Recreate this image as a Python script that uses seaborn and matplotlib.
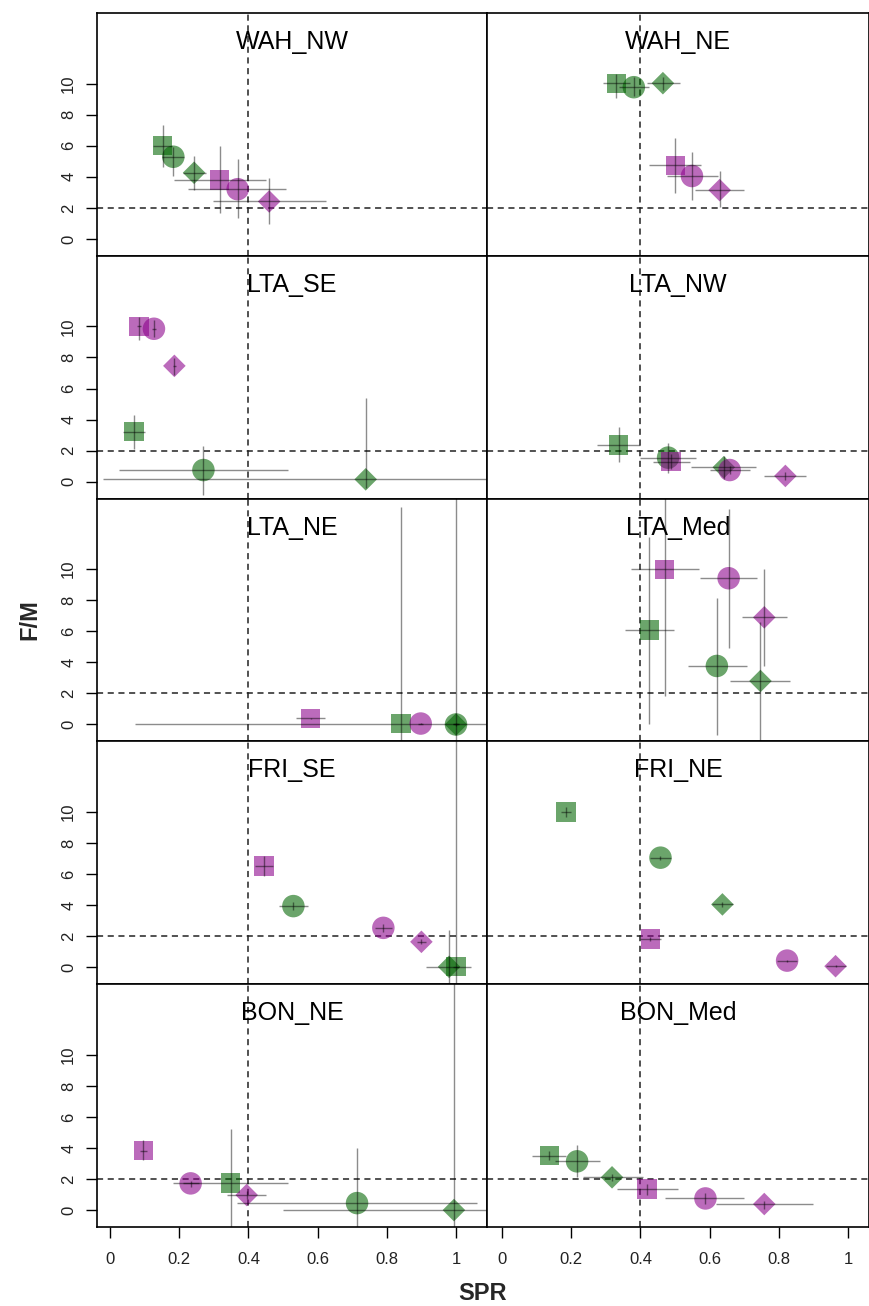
import numpy as np
import pandas as pd
import matplotlib
matplotlib.use("Agg")
import matplotlib.pyplot as plt
import seaborn as sns

# ---------------- data ----------------
panels = ["WAH_NW", "WAH_NE", "LTA_SE", "LTA_NW", "LTA_NE",
          "LTA_Med", "FRI_SE", "FRI_NE", "BON_NE", "BON_Med"]

# six series per panel: green square, green circle, green diamond,
# purple square, purple circle, purple diamond
series_group = ["green", "green", "green", "purple", "purple", "purple"]
series_shape = ["square", "circle", "diamond", "square", "circle", "diamond"]

spr = [0.152, 0.183, 0.243, 0.317, 0.369, 0.460,
       0.330, 0.381, 0.465, 0.501, 0.549, 0.629,
       0.069, 0.270, 0.739, 0.084, 0.127, 0.186,
       0.337, 0.480, 0.641, 0.488, 0.658, 0.819,
       0.841, 1.000, 1.000, 0.580, 0.898, np.nan,
       0.426, 0.621, 0.747, 0.470, 0.655, 0.758,
       1.000, 0.530, 0.980, 0.445, 0.790, 0.900,
       0.185, 0.458, 0.637, 0.429, 0.824, 0.964,
       0.349, 0.714, 0.994, 0.096, 0.233, 0.395,
       0.137, 0.217, 0.318, 0.419, 0.588, 0.758]
spr_lo = [0.125, 0.149, 0.210, 0.185, 0.226, 0.299,
          0.292, 0.337, 0.419, 0.426, 0.477, 0.559,
          0.038, 0.026, -0.019, 0.079, 0.122, 0.181,
          0.275, 0.398, 0.546, 0.436, 0.600, 0.758,
          0.072, 0.990, 0.990, 0.538, 0.890, np.nan,
          0.356, 0.538, 0.660, 0.373, 0.571, 0.694,
          0.990, 0.489, 0.914, 0.420, 0.765, 0.888,
          0.170, 0.428, 0.607, 0.400, 0.794, 0.935,
          0.181, 0.368, 0.500, 0.086, 0.210, 0.337,
          0.087, 0.154, 0.233, 0.333, 0.472, 0.619]
spr_hi = [0.180, 0.215, 0.276, 0.450, 0.510, 0.623,
          0.371, 0.426, 0.514, 0.576, 0.624, 0.700,
          0.101, 0.514, 1.500, 0.089, 0.132, 0.191,
          0.398, 0.562, 0.735, 0.544, 0.718, 0.879,
          1.500, 1.010, 1.010, 0.621, 0.905, np.nan,
          0.498, 0.708, 0.833, 0.568, 0.737, 0.824,
          1.010, 0.571, 1.042, 0.472, 0.815, 0.912,
          0.200, 0.488, 0.667, 0.460, 0.854, 0.993,
          0.515, 1.060, 1.500, 0.106, 0.256, 0.450,
          0.185, 0.282, 0.407, 0.508, 0.700, 0.898]
fm = [6.00, 5.29, 4.26, 3.79, 3.20, 2.41,
      10.03, 9.77, 10.03, 4.73, 4.05, 3.14,
      3.23, 0.75, 0.15, 10.00, 9.85, 7.46,
      2.37, 1.55, 0.93, 1.29, 0.75, 0.37,
      0.06, 0.00, 0.00, 0.39, 0.06, np.nan,
      6.09, 3.77, 2.80, 10.00, 9.42, 6.90,
      0.03, 3.94, 0.03, 6.52, 2.54, 1.64,
      10.00, 7.06, 4.05, 1.83, 0.43, 0.07,
      1.74, 0.45, 0.00, 3.83, 1.72, 0.97,
      3.51, 3.14, 2.11, 1.36, 0.75, 0.39]
fm_lo = [4.64, 4.06, 3.14, 1.64, 1.32, 0.93,
         9.06, 9.20, 9.60, 2.93, 2.50, 2.06,
         2.11, -0.86, -0.43, 9.14, 9.30, 6.88,
         1.25, 0.54, 0.20, 0.80, 0.50, 0.10,
         -3.00, -0.10, -3.00, 0.35, 0.03, np.nan,
         0.06, -0.68, -3.00, 1.85, 4.90, 3.77,
         -3.00, 3.70, -3.00, 5.90, 2.30, 1.50,
         9.70, 6.90, 3.90, 1.70, 0.35, 0.00,
         -3.00, -3.00, -3.00, 3.20, 1.50, 0.70,
         3.20, 2.11, 1.90, 1.00, 0.40, 0.10]
fm_hi = [7.33, 5.94, 5.35, 6.00, 5.12, 3.94,
         10.60, 10.40, 10.40, 6.52, 5.57, 4.37,
         4.30, 2.32, 5.38, 10.58, 10.40, 7.96,
         3.51, 2.52, 1.65, 1.80, 1.00, 0.60,
         14.00, 0.10, 20.00, 0.43, 0.09, np.nan,
         12.06, 8.13, 6.63, 16.00, 13.87, 10.00,
         20.00, 4.20, 2.39, 7.14, 2.80, 1.80,
         10.30, 7.20, 4.20, 1.95, 0.50, 0.14,
         5.23, 3.98, 20.00, 4.50, 1.90, 1.20,
         3.80, 4.22, 2.30, 1.70, 1.10, 0.60]

x_ticks = [0, 0.2, 0.4, 0.6, 0.8, 1]
x_tick_labels = ["0", "0.2", "0.4", "0.6", "0.8", "1"]
y_ticks = [0, 2, 4, 6, 8, 10]
y_tick_labels = ["0", "2", "4", "6", "8", "10"]

df = pd.DataFrame({
    "panel": np.repeat(panels, 6),
    "group": series_group * len(panels),
    "shape": series_shape * len(panels),
    "SPR": spr, "SPR_lo": spr_lo, "SPR_hi": spr_hi,
    "FM": fm, "FM_lo": fm_lo, "FM_hi": fm_hi,
}).dropna(subset=["SPR"])

# ---------------- style ----------------
sns.set_theme(style="white")
plt.rcParams["font.family"] = ["Liberation Sans", "DejaVu Sans"]

palette = {"green": "#006400", "purple": "#8B008B"}
markers = {"square": "s", "circle": "o", "diamond": "D"}
sizes = {"square": 13.9 ** 2, "circle": 16.2 ** 2, "diamond": 11.5 ** 2}

W, H = 870, 1306
fig = plt.figure(figsize=(W / 100, H / 100), dpi=100)
gs = fig.add_gridspec(5, 2, left=97 / W, right=869 / W,
                      top=1 - 13 / H, bottom=1 - 1227 / H,
                      wspace=0, hspace=0, width_ratios=[390, 382])

xlims = [(-0.0376, 1.0896), (-0.0434, 1.0607)]
ylim = (-1.09, 14.55)

for i, name in enumerate(panels):
    r, c = divmod(i, 2)
    ax = fig.add_subplot(gs[r, c])
    sub = df[df["panel"] == name]

    ax.axvline(0.4, color="#222222", lw=1.1, ls=(0, (4, 3)), zorder=1)
    ax.axhline(2, color="#222222", lw=1.1, ls=(0, (4, 3)), zorder=1)

    sns.scatterplot(data=sub, x="SPR", y="FM", hue="group", style="shape",
                    size="shape", sizes=sizes, markers=markers,
                    palette=palette, alpha=0.58, linewidth=0,
                    legend=False, ax=ax, zorder=2)

    xerr = np.vstack([sub["SPR"] - sub["SPR_lo"], sub["SPR_hi"] - sub["SPR"]])
    yerr = np.vstack([sub["FM"] - sub["FM_lo"], sub["FM_hi"] - sub["FM"]])
    ax.errorbar(sub["SPR"], sub["FM"], xerr=xerr, yerr=yerr, fmt="none",
                ecolor="black", alpha=0.45, elinewidth=1.0, capsize=0,
                zorder=3)

    ax.set_xlim(*xlims[c])
    ax.set_ylim(*ylim)
    ax.set_xlabel("")
    ax.set_ylabel("")

    ax.text(0.5, 0.852, name, transform=ax.transAxes, ha="center",
            va="baseline", fontsize=18, color="black")

    for sp in ax.spines.values():
        sp.set_visible(True)
        sp.set_color("black")
        sp.set_linewidth(1.2)

    ax.tick_params(direction="out", length=8, width=1, color="black",
                   labelsize=12, pad=8, labelcolor="#222222")
    if c == 0:
        ax.set_yticks(y_ticks)
        ax.set_yticklabels(y_tick_labels, rotation=90, va="center")
        ax.tick_params(axis="y", left=True, pad=7)
    else:
        ax.set_yticks([])
    if r == 4:
        ax.set_xticks(x_ticks)
        ax.set_xticklabels(x_tick_labels)
        ax.tick_params(axis="x", bottom=True, pad=10)
    else:
        ax.set_xticks([])

fig.text((97 + 869) / 2 / W, 1 - 1294 / H, "SPR", ha="center", va="center",
         fontsize=17, fontweight="bold")
fig.text(30 / W, 1 - 620 / H, "F/M", ha="center", va="center",
         rotation=90, fontsize=17, fontweight="bold")

fig.savefig("out.png", dpi=100)
